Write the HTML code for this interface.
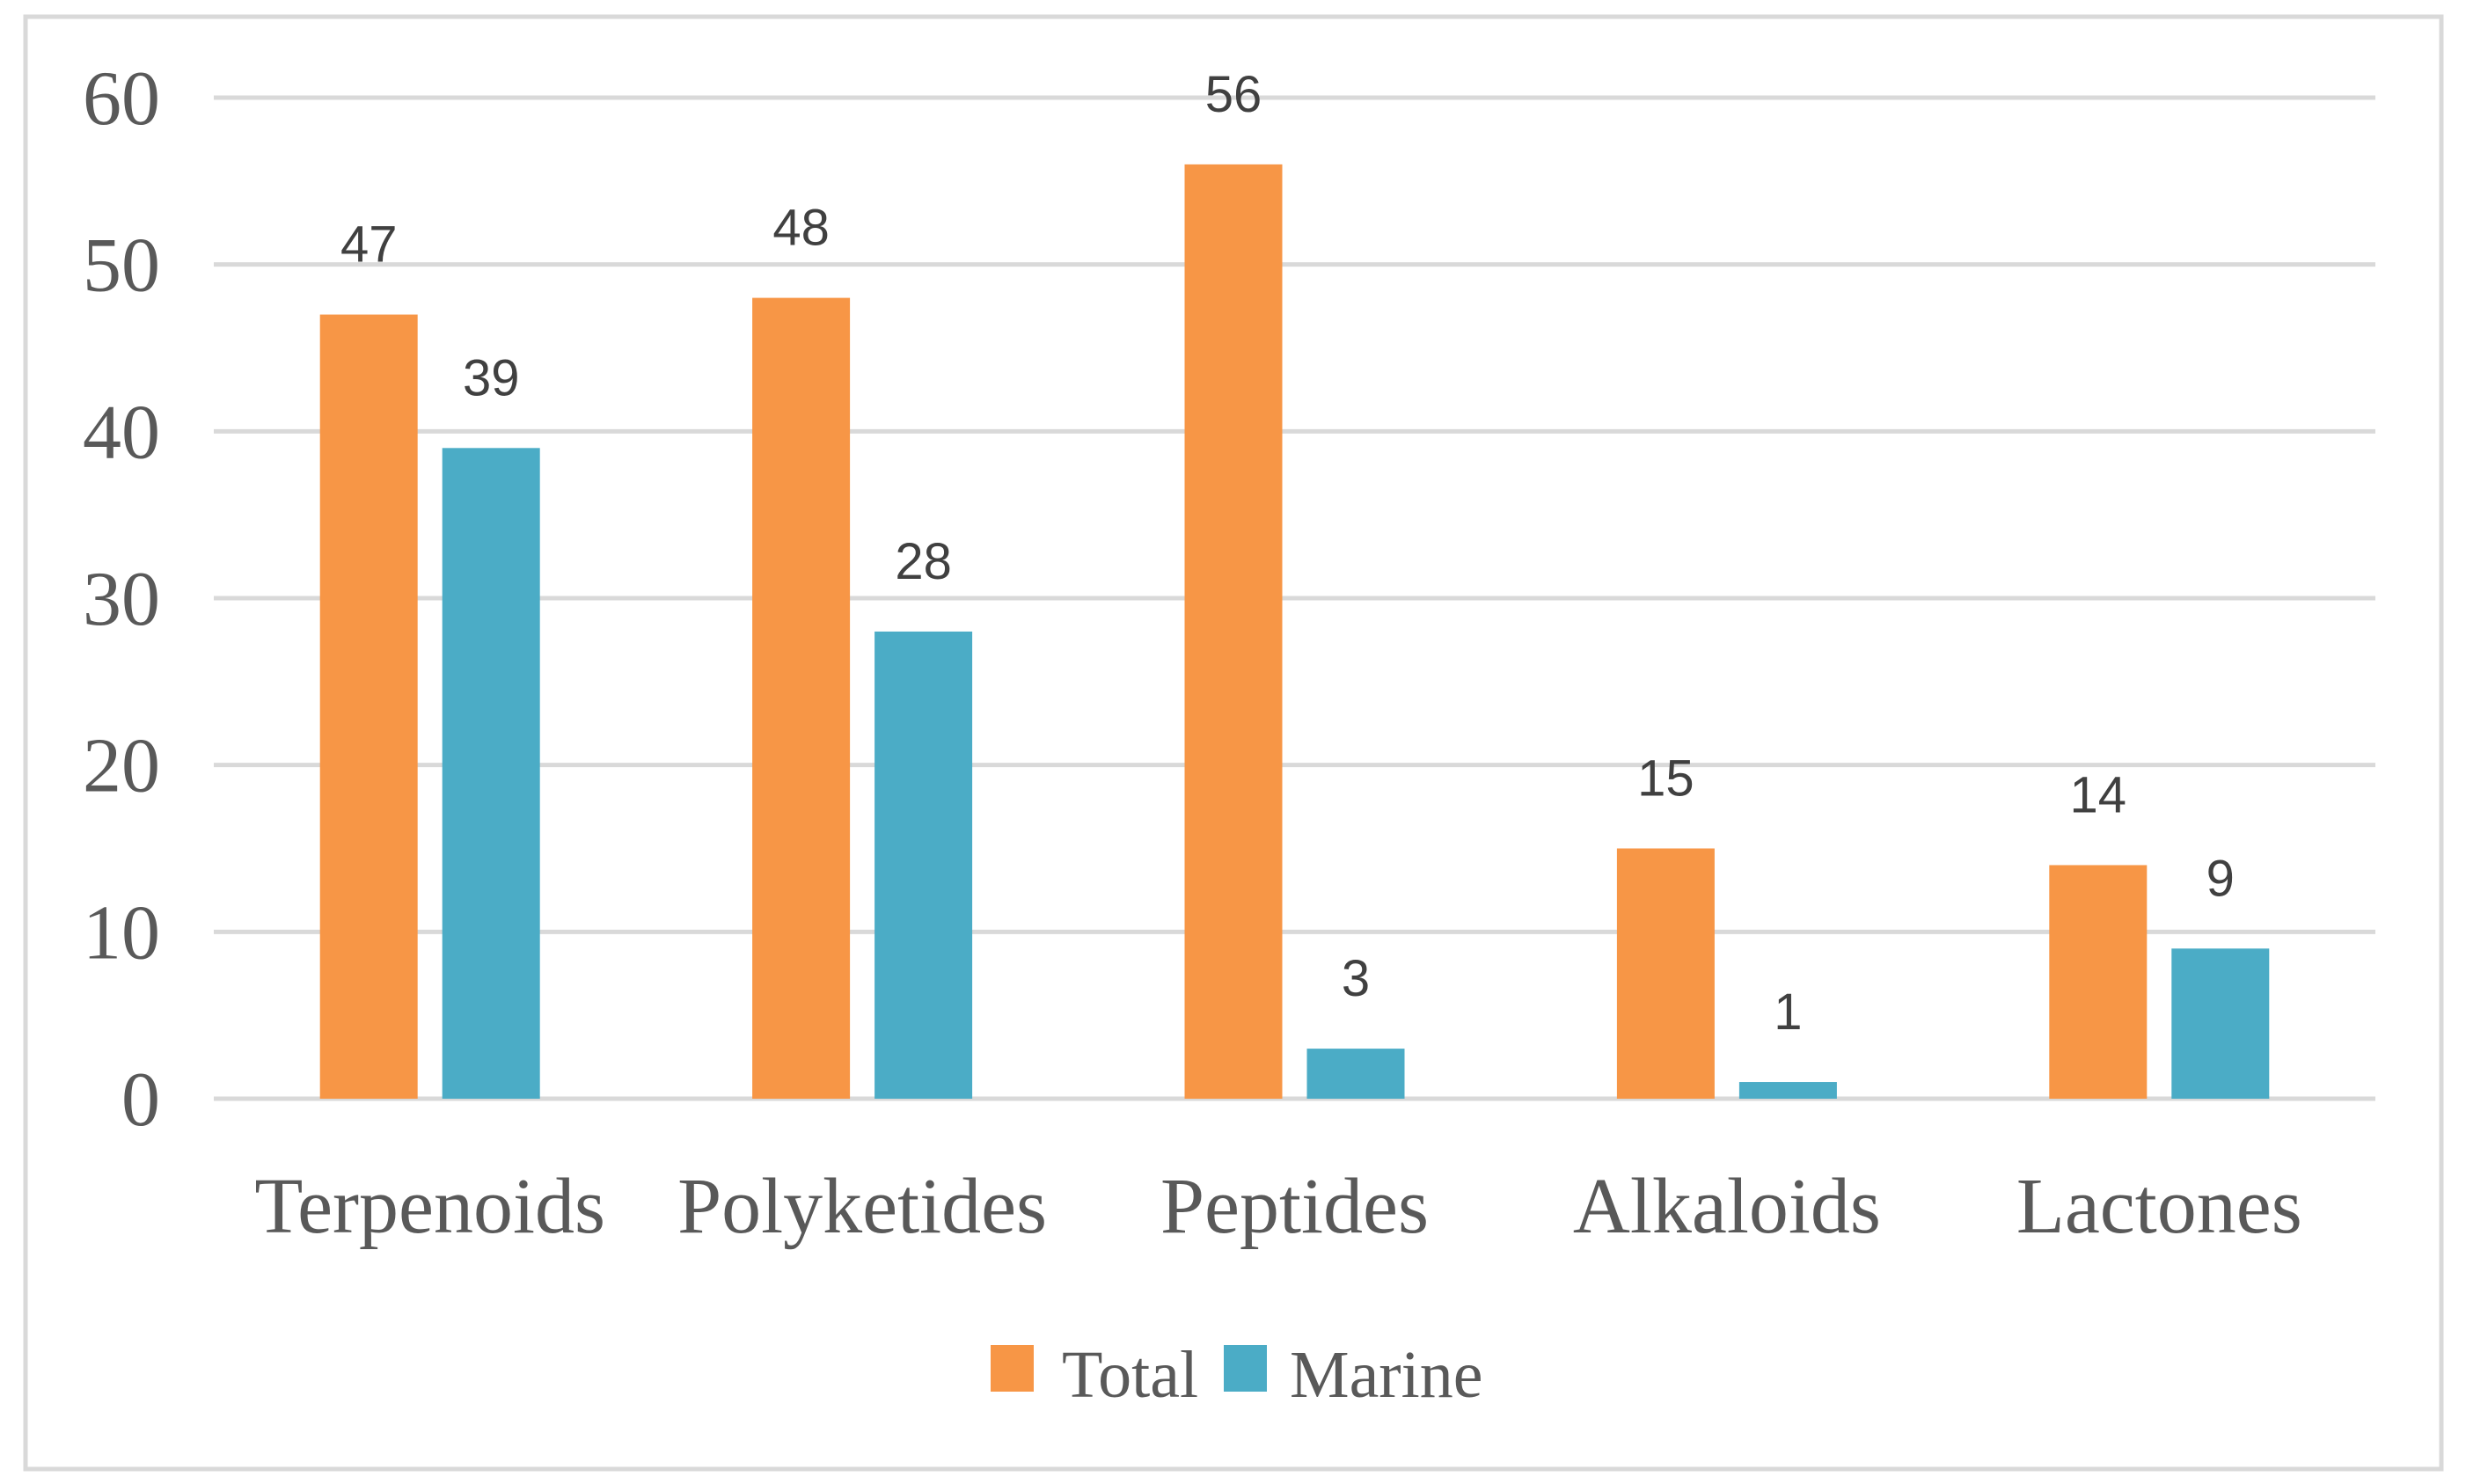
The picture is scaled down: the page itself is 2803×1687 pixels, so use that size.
<!DOCTYPE html>
<html><head><meta charset="utf-8"><style>
html,body{margin:0;padding:0;background:#fff;}
svg{display:block;}
</style></head><body>
<svg width="2803" height="1687" viewBox="0 0 2803 1687" xmlns="http://www.w3.org/2000/svg">
<rect x="29" y="19" width="2746" height="1651" fill="#fff" stroke="#D9D9D9" stroke-width="5"/>
<g id="grid"></g><g id="bars"></g><g id="labels"></g>
<g>
<rect x="1126" y="1529" width="49" height="53" fill="#F79646"/>
<text x="1207" y="1588" font-family="Liberation Serif, serif" font-size="76" fill="#595959">Total</text>
<rect x="1391" y="1529" width="49" height="53" fill="#4BACC6"/>
<text x="1466" y="1588" font-family="Liberation Serif, serif" font-size="76" fill="#595959">Marine</text>
</g>
</svg>
<script>
const categories = ["Terpenoids","Polyketides","Peptides","Alkaloids","Lactones"];
const totalValues = [47,48,56,15,14];
const marineValues = [39,28,3,1,9];
const yTicks = [0,10,20,30,40,50,60];
const NS="http://www.w3.org/2000/svg";
const X0=243,X1=2700,Y0=1249,Y60=111,YMAX=60;
const y=v=>Y0-(v/YMAX)*(Y0-Y60);
const band=(X1-X0)/categories.length;
const cx=i=>X0+band*(i+0.5);
const BW=111,GAP=28;
function mk(tag,attrs,parent,text){const e=document.createElementNS(NS,tag);for(const k in attrs)e.setAttribute(k,attrs[k]);if(text!==undefined)e.textContent=text;parent.appendChild(e);return e;}
const grid=document.getElementById('grid'),bars=document.getElementById('bars'),labels=document.getElementById('labels');
yTicks.forEach(t=>{
  const l=mk('line',{x1:X0,x2:X1,y1:y(t),y2:y(t),stroke:'#D9D9D9','stroke-width':5},grid);
  
  
  const tx=mk('text',{x:182,y:y(t)+30,'text-anchor':'end','font-family':'Liberation Serif, serif','font-size':88,fill:'#595959'},labels,String(t));
  
  
});
categories.forEach((c,i)=>{
  const series=[[totalValues[i],'#F79646',cx(i)-GAP/2-BW,'total'],[marineValues[i],'#4BACC6',cx(i)+GAP/2,'marine']];
  series.forEach(([v,col,x,nm])=>{
    const r=mk('rect',{x:x,y:y(v),width:BW,height:Y0-y(v),fill:col},bars);
    
    
    const t=mk('text',{x:x+BW/2,y:y(v)-60,'text-anchor':'middle','font-family':'Liberation Sans, sans-serif','font-size':58,fill:'#404040'},labels,String(v));
    
    
  });
  const cl=mk('text',{x:cx(i),y:1401,'text-anchor':'middle','font-family':'Liberation Serif, serif','font-size':90,fill:'#595959'},labels,c);
  
  
});
</script>
</body></html>
